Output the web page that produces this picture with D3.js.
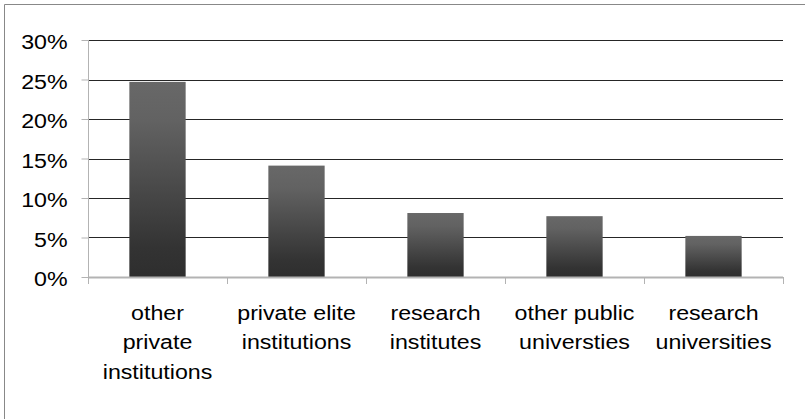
<!DOCTYPE html>
<html>
<head>
<meta charset="utf-8">
<script src="https://cdn.jsdelivr.net/npm/d3@7"></script>
<style>
  html, body { margin: 0; padding: 0; background: #fff; }
  svg { display: block; }
  text { font-family: "Liberation Sans", Arial, sans-serif; fill: #000; }
</style>
</head>
<body>
<div id="chart"></div>
<script>
// Share of each institution type
const categories = [
  ["other", "private", "institutions"],
  ["private elite", "institutions"],
  ["research", "institutes"],
  ["other public", "universties"],
  ["research", "universities"]
];
const shares = [0.247, 0.141, 0.081, 0.077, 0.052];
const yTicks = [0, 0.05, 0.10, 0.15, 0.20, 0.25, 0.30];

const W = 805, H = 419;
const plot = { left: 88, right: 783, top: 40, bottom: 277 };
const textStretch = 1.16; // labels are set slightly wide

const svg = d3.select("#chart").append("svg")
  .attr("width", W).attr("height", H);

// Outer frame (top and left edges fall inside the canvas)
svg.append("path")
  .attr("d", `M4.5,${H + 2}V4.5H${W + 2}`)
  .attr("fill", "none").attr("stroke", "#888").attr("stroke-width", 1);

const keys = categories.map((c, i) => i);
const x = d3.scaleBand().domain(keys).range([plot.left, plot.right]).padding(0);
const y = d3.scaleLinear().domain([0, 0.30]).range([plot.bottom, plot.top]);

// Bar fill: lighter grey at the top fading to dark at the base
const defs = svg.append("defs");
const grad = defs.append("linearGradient")
  .attr("id", "barFill").attr("x1", 0).attr("y1", 0).attr("x2", 0).attr("y2", 1);
grad.append("stop").attr("offset", "0%").attr("stop-color", "#686868");
grad.append("stop").attr("offset", "20%").attr("stop-color", "#626262");
grad.append("stop").attr("offset", "85%").attr("stop-color", "#333333");
grad.append("stop").attr("offset", "100%").attr("stop-color", "#2e2e2e");

// Horizontal gridlines
svg.append("g")
  .selectAll("line")
  .data(yTicks.filter(d => d > 0))
  .join("line")
  .attr("x1", plot.left).attr("x2", plot.right)
  .attr("y1", d => Math.round(y(d)) + 0.5).attr("y2", d => Math.round(y(d)) + 0.5)
  .attr("stroke", "#262626").attr("stroke-width", 1);

// Bars
const barW = x.bandwidth() * 0.405;
svg.append("g")
  .selectAll("rect")
  .data(shares)
  .join("rect")
  .attr("x", (d, i) => x(i) + (x.bandwidth() - barW) / 2)
  .attr("width", barW)
  .attr("y", d => y(d))
  .attr("height", d => y(0) - y(d))
  .attr("fill", "url(#barFill)");

// Y axis
const yAxis = d3.axisLeft(y)
  .tickValues(yTicks)
  .tickFormat(d3.format(".0%"))
  .tickSize(7)
  .tickPadding(11);
const gy = svg.append("g")
  .attr("transform", `translate(${plot.left + 0.5},0)`)
  .call(yAxis);
gy.select(".domain").remove();
gy.selectAll(".tick line").attr("stroke", "#b3b3b3");
gy.selectAll(".tick text")
  .attr("font-size", 20)
  .attr("font-family", "Liberation Sans, Arial, sans-serif")
  .attr("fill", "#000")
  .attr("dy", "0.38em")
  .attr("transform", `translate(0,1) scale(${textStretch},1)`);
gy.append("line")
  .attr("x1", 0).attr("x2", 0)
  .attr("y1", plot.top).attr("y2", plot.bottom + 7)
  .attr("stroke", "#b3b3b3");

// X axis: baseline with ticks at category boundaries
const gx = svg.append("g");
gx.append("line")
  .attr("x1", plot.left).attr("x2", plot.right)
  .attr("y1", plot.bottom + 0.5).attr("y2", plot.bottom + 0.5)
  .attr("stroke", "#b3b3b3").attr("stroke-width", 2);
gx.selectAll("line.tk")
  .data(keys.map(k => x(k) + x.bandwidth()))
  .join("line").attr("class", "tk")
  .attr("x1", d => Math.round(d) + 0.5).attr("x2", d => Math.round(d) + 0.5)
  .attr("y1", plot.bottom).attr("y2", plot.bottom + 7)
  .attr("stroke", "#b3b3b3");

// Category labels, wrapped over several lines
const lbl = svg.append("g")
  .selectAll("g")
  .data(categories)
  .join("g")
  .attr("transform", (d, i) =>
    `translate(${x(i) + x.bandwidth() / 2},320) scale(${textStretch},1)`)
  .append("text")
  .attr("text-anchor", "middle")
  .attr("font-size", 20);
lbl.selectAll("tspan")
  .data(d => d)
  .join("tspan")
  .attr("x", 0)
  .attr("dy", (d, i) => i === 0 ? 0 : 29.5)
  .text(d => d);
</script>
</body>
</html>
